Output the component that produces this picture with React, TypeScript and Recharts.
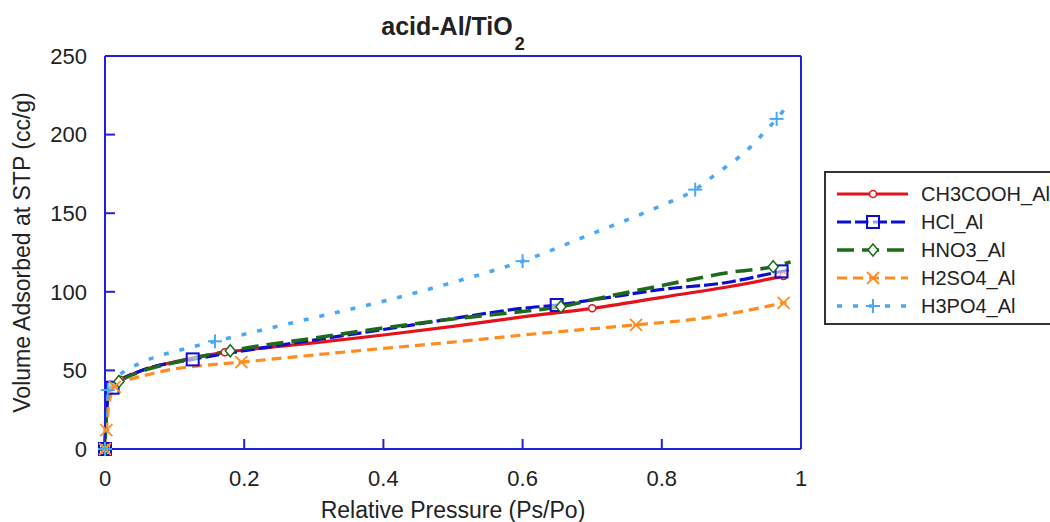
import { ComposedChart, Line, Scatter, XAxis, YAxis, Label } from 'recharts';

// relative pressure ticks and volume ticks
const PRESSURE_TICKS = [0, 0.2, 0.4, 0.6, 0.8, 1];
const VOLUME_TICKS = [0, 50, 100, 150, 200, 250];

// isotherm curves, [Ps/Po, cc/g]
const ch3coohCurve: [number, number][] = [
  [0, 0], [0.001, 15], [0.003, 30], [0.006, 37], [0.01, 40.5], [0.022, 44], [0.05, 49.5],
  [0.1, 55.5], [0.172, 61.5], [0.2, 63], [0.3, 67.5], [0.4, 72.5], [0.5, 78], [0.6, 84],
  [0.7, 89.5], [0.8, 96.5], [0.9, 103.5], [0.975, 110],
];
const hclCurve: [number, number][] = [
  [0, 0], [0.001, 14], [0.003, 28], [0.006, 35], [0.011, 39], [0.02, 43], [0.05, 49.5],
  [0.126, 57], [0.2, 62.5], [0.3, 69.3], [0.4, 76], [0.5, 83], [0.6, 89.5], [0.649, 91.6],
  [0.7, 94.8], [0.8, 101.5], [0.9, 106.4], [0.95, 111], [0.984, 114],
];
const hno3Curve: [number, number][] = [
  [0, 0], [0.001, 15], [0.003, 29], [0.006, 36], [0.01, 40], [0.02, 43], [0.05, 49],
  [0.1, 55], [0.18, 62.5], [0.3, 70.5], [0.4, 77], [0.5, 82.7], [0.6, 87.5], [0.655, 90.5],
  [0.7, 95], [0.8, 104], [0.9, 112.5], [0.96, 116], [0.985, 119],
];
const h2so4Curve: [number, number][] = [
  [0, 0], [0.002, 12], [0.005, 27], [0.009, 35], [0.014, 39.5], [0.03, 43.5], [0.05, 46],
  [0.1, 51], [0.15, 53.5], [0.196, 55.3], [0.3, 59.8], [0.4, 64], [0.5, 68], [0.6, 72.5],
  [0.7, 76.5], [0.763, 79], [0.85, 82.7], [0.94, 89.7], [0.975, 93],
];
const h3po4Curve: [number, number][] = [
  [0, 0], [0.001, 18], [0.002, 30], [0.004, 37.5], [0.01, 43], [0.02, 47], [0.03, 50],
  [0.05, 54.5], [0.075, 59], [0.1, 62], [0.158, 68.5], [0.2, 73], [0.3, 83.5], [0.4, 94],
  [0.5, 106], [0.6, 119.5], [0.7, 137], [0.8, 155], [0.848, 165], [0.875, 174], [0.9, 182],
  [0.92, 189], [0.94, 198], [0.965, 210], [0.985, 221],
];

// measured points that carry a marker
const ch3coohMarks: [number, number][] = [[0, 0], [0.022, 44], [0.172, 61.5], [0.7, 89.5], [0.975, 110]];
const hclMarks: [number, number][] = [[0, 0], [0.011, 39], [0.126, 57], [0.649, 91.6], [0.972, 113]];
const hno3Marks: [number, number][] = [[0, 0], [0.02, 43], [0.18, 62.5], [0.655, 90.5], [0.96, 116]];
const h2so4Marks: [number, number][] = [[0, 0], [0.002, 12], [0.014, 39.5], [0.196, 55.3], [0.763, 79], [0.975, 93]];
const h3po4Marks: [number, number][] = [[0, 0], [0.004, 37.5], [0.158, 68.5], [0.6, 119.5], [0.848, 165], [0.965, 210]];

const AXIS_BLUE = '#2020dc';
const TEXT = '#222';
const FONT = '"Liberation Sans", Arial, sans-serif';

type Shape = 'circle' | 'square' | 'diamond' | 'cross' | 'plus';

const toXY = (pairs: [number, number][]) => pairs.map(([x, y]) => ({ x, y }));

const series = [
  { name: 'CH3COOH_Al', color: '#e4121a', dash: undefined, width: 3.2, shape: 'circle' as Shape, curve: ch3coohCurve, marks: ch3coohMarks },
  { name: 'HCl_Al', color: '#0c0cd2', dash: '14 4', width: 3.2, shape: 'square' as Shape, curve: hclCurve, marks: hclMarks },
  { name: 'HNO3_Al', color: '#1b6b1b', dash: '17 8', width: 3.6, shape: 'diamond' as Shape, curve: hno3Curve, marks: hno3Marks },
  { name: 'H2SO4_Al', color: '#ff8c1e', dash: '10 6', width: 3.2, shape: 'cross' as Shape, curve: h2so4Curve, marks: h2so4Marks },
  { name: 'H3PO4_Al', color: '#4aa8f6', dash: '5 11', width: 3.6, shape: 'plus' as Shape, curve: h3po4Curve, marks: h3po4Marks },
];

function Marker({ cx, cy, shape, color }: { cx: number; cy: number; shape: Shape; color: string }) {
  if (cx == null || cy == null) return null;
  switch (shape) {
    case 'circle':
      return <circle cx={cx} cy={cy} r={3.5} fill="#fff" stroke={color} strokeWidth={1.5} />;
    case 'square':
      return <rect x={cx - 6} y={cy - 6} width={12} height={12} fill="#fff" fillOpacity={0.6} stroke={color} strokeWidth={2} />;
    case 'diamond':
      return <path d={`M${cx},${cy - 6}L${cx + 5},${cy}L${cx},${cy + 6}L${cx - 5},${cy}Z`} fill="#fff" stroke={color} strokeWidth={1.5} />;
    case 'cross':
      return (
        <g stroke={color} strokeWidth={1.8}>
          <line x1={cx - 6} y1={cy - 6} x2={cx + 6} y2={cy + 6} />
          <line x1={cx - 6} y1={cy + 6} x2={cx + 6} y2={cy - 6} />
          <line x1={cx - 3} y1={cy} x2={cx + 3} y2={cy} />
        </g>
      );
    default:
      return (
        <g stroke={color} strokeWidth={2}>
          <line x1={cx - 7} y1={cy} x2={cx + 7} y2={cy} />
          <line x1={cx} y1={cy - 7} x2={cx} y2={cy + 7} />
        </g>
      );
  }
}

const axisStyle = { stroke: AXIS_BLUE, strokeWidth: 2 };
const tickStyle = { fill: TEXT, fontSize: 22, fontFamily: FONT };

export default function App() {
  return (
    <div style={{ position: 'absolute', left: 0, top: 0, width: 1050, height: 522, overflow: 'hidden', background: '#fff', fontFamily: FONT }}>
      <div style={{ position: 'absolute', left: 0, top: 12, width: 906, textAlign: 'center', fontWeight: 'bold', fontSize: 25, lineHeight: '29px', color: TEXT }}>
        acid-Al/TiO<span style={{ position: 'relative', top: 15, fontSize: 18, marginLeft: 2 }}>2</span>
      </div>

      <ComposedChart width={1050} height={522} margin={{ top: 46, right: 239, bottom: 0, left: 0 }}>
        <XAxis
          type="number"
          dataKey="x"
          domain={[0, 1]}
          ticks={PRESSURE_TICKS}
          height={73}
          tickSize={-10}
          tickMargin={31}
          axisLine={axisStyle}
          tickLine={axisStyle}
          tick={tickStyle}
        >
          <Label value="Relative Pressure (Ps/Po)" position="insideBottom" offset={4} style={{ fill: TEXT, fontSize: 23, fontFamily: FONT }} />
        </XAxis>
        <XAxis
          xAxisId="top"
          orientation="top"
          type="number"
          dataKey="x"
          domain={[0, 1]}
          ticks={PRESSURE_TICKS}
          allowDataOverflow
          height={10}
          tickSize={-10}
          axisLine={axisStyle}
          tickLine={axisStyle}
          tick={false}
        />
        <YAxis
          type="number"
          domain={[0, 250]}
          ticks={VOLUME_TICKS}
          width={105}
          tickSize={-10}
          tickMargin={28}
          axisLine={axisStyle}
          tickLine={axisStyle}
          tick={tickStyle}
        >
          <Label
            value="Volume Adsorbed at STP (cc/g)"
            angle={-90}
            position="insideLeft"
            offset={22}
            style={{ textAnchor: 'middle', fill: TEXT, fontSize: 23, fontFamily: FONT }}
          />
        </YAxis>
        <YAxis
          yAxisId="right"
          orientation="right"
          type="number"
          domain={[0, 250]}
          ticks={VOLUME_TICKS}
          allowDataOverflow
          width={10}
          tickSize={-10}
          axisLine={axisStyle}
          tickLine={axisStyle}
          tick={false}
        />

        {series.map((s) => (
          <Line
            key={s.name}
            data={toXY(s.curve)}
            dataKey="y"
            type="monotone"
            stroke={s.color}
            strokeWidth={s.width}
            strokeDasharray={s.dash}
            dot={false}
            activeDot={false}
            isAnimationActive={false}
          />
        ))}
        {series.map((s) => (
          <Scatter
            key={s.name + '-marks'}
            data={toXY(s.marks)}
            dataKey="y"
            isAnimationActive={false}
            shape={(p: any) => <Marker cx={p.cx} cy={p.cy} shape={s.shape} color={s.color} />}
          />
        ))}
      </ComposedChart>

      <div style={{ position: 'absolute', left: 824, top: 171, width: 240, height: 154, border: '2px solid #333', boxSizing: 'border-box', paddingTop: 7, background: '#fff' }}>
        {series.map((s) => (
          <div key={s.name} style={{ display: 'flex', alignItems: 'center', height: 28 }}>
            <svg width={84} height={28} style={{ marginLeft: 11, flex: 'none' }}>
              <line x1={0} y1={14} x2={71} y2={14} stroke={s.color} strokeWidth={s.width} strokeDasharray={s.dash} />
              <Marker cx={36} cy={14} shape={s.shape} color={s.color} />
            </svg>
            <span style={{ fontSize: 20, color: TEXT, whiteSpace: 'nowrap' }}>{s.name}</span>
          </div>
        ))}
      </div>
    </div>
  );
}
